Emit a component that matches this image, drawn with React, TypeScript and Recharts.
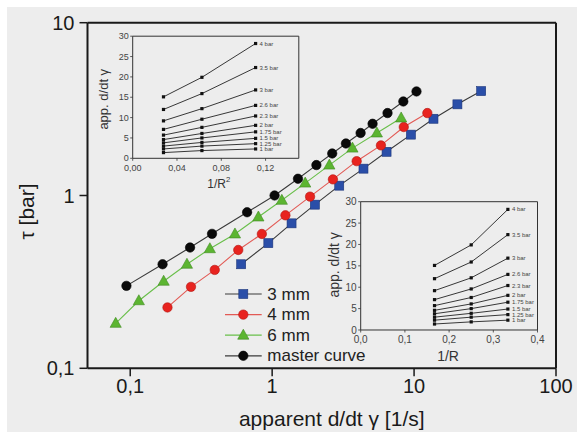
import React from 'react';
import { ScatterChart, Scatter, XAxis, YAxis, Legend } from 'recharts';

const FONT = '"Liberation Sans", Arial, Helvetica, sans-serif';

// ---------- main plot data ----------
const rate3mm = [0.605, 0.94, 1.37, 2.0, 2.97, 4.4, 6.4, 9.5, 13.7, 20.2, 29.7];
const tau3mm = [0.4, 0.53, 0.69, 0.885, 1.14, 1.43, 1.79, 2.25, 2.78, 3.37, 4.02];

const rate4mm = [0.183, 0.268, 0.394, 0.577, 0.846, 1.24, 1.85, 2.68, 3.94, 5.84, 8.46, 12.4];
const tau4mm = [0.225, 0.296, 0.371, 0.484, 0.599, 0.768, 0.985, 1.24, 1.58, 1.95, 2.49, 3.0];

const rate6mm = [0.079, 0.115, 0.172, 0.251, 0.364, 0.547, 0.8, 1.17, 1.71, 2.53, 3.68, 5.47, 8.11];
const tau6mm = [0.182, 0.246, 0.319, 0.4, 0.492, 0.599, 0.751, 0.938, 1.18, 1.5, 1.88, 2.3, 2.81];

const rateMaster = [0.094, 0.169, 0.264, 0.377, 0.666, 1.04, 1.52, 2.05, 2.65, 3.31, 4.2, 5.1, 6.5, 8.4, 10.4];
const tauMaster = [0.3, 0.4, 0.5, 0.6, 0.8, 1.0, 1.25, 1.5, 1.75, 2.0, 2.3, 2.6, 3.0, 3.5, 4.0];

const seriesNames = ['3 mm', '4 mm', '6 mm', 'master curve'];

const xMajorTicks = [0.1, 1, 10, 100];
const xMinorTicks = [0.06, 0.07, 0.08, 0.09, 0.2, 0.3, 0.4, 0.5, 0.6, 0.7, 0.8, 0.9, 2, 3, 4, 5, 6, 7, 8, 9, 20, 30, 40, 50, 60, 70, 80, 90];
const yMajorTicks = [0.1, 1, 10];
const yMinorTicks = [0.2, 0.3, 0.4, 0.5, 0.6, 0.7, 0.8, 0.9, 2, 3, 4, 5, 6, 7, 8, 9];

// ---------- inset data ----------
const pressureLabels = ['4 bar', '3.5 bar', '3 bar', '2.6 bar', '2.3 bar', '2 bar', '1.75 bar', '1.5 bar', '1.25 bar', '1 bar'];
const invRadiusSq = [0.0278, 0.0625, 0.111];
const invRadius = [0.167, 0.25, 0.333];
const rate4bar = [15.1, 19.9, 28.2];
const rate3_5bar = [12.0, 15.9, 22.3];
const rate3bar = [9.2, 12.2, 16.8];
const rate2_6bar = [7.1, 9.6, 13.0];
const rate2_3bar = [5.7, 7.6, 10.4];
const rate2bar = [4.6, 6.1, 8.1];
const rate1_75bar = [3.8, 5.0, 6.5];
const rate1_5bar = [3.0, 3.9, 4.9];
const rate1_25bar = [2.3, 3.0, 3.6];
const rate1bar = [1.4, 1.9, 2.3];
const insetRates = [rate4bar, rate3_5bar, rate3bar, rate2_6bar, rate2_3bar, rate2bar, rate1_75bar, rate1_5bar, rate1_25bar, rate1bar];
const insetYTicks = [0, 5, 10, 15, 20, 25, 30];
const inset1XTicks = [0, 0.04, 0.08, 0.12];
const inset2XTicks = [0, 0.1, 0.2, 0.3, 0.4];

const zip = (xs: number[], ys: number[]) => xs.map((x, i) => ({ x, y: ys[i] }));

// ---------- markers ----------
type MarkerFn = (cx: number, cy: number) => React.ReactElement;
const squareMarker: MarkerFn = (cx, cy) => (
  <rect x={cx - 4.5} y={cy - 4.5} width={9} height={9} fill="#2a4ea8" stroke="#1c357a" strokeWidth={0.6} />
);
const circleMarker = (fill: string, stroke: string): MarkerFn => (cx, cy) => (
  <circle cx={cx} cy={cy} r={4.7} fill={fill} stroke={stroke} strokeWidth={0.6} />
);
const triangleMarker: MarkerFn = (cx, cy) => (
  <polygon points={`${cx},${cy - 6} ${cx - 5.6},${cy + 4} ${cx + 5.6},${cy + 4}`} fill="#5cb531" stroke="#3f8a22" strokeWidth={0.6} />
);

const mainSeries = [
  { name: seriesNames[0], data: zip(rate3mm, tau3mm), line: '#3a3a3a', marker: squareMarker },
  { name: seriesNames[1], data: zip(rate4mm, tau4mm), line: '#e25a55', marker: circleMarker('#e8231f', '#b01510') },
  { name: seriesNames[2], data: zip(rate6mm, tau6mm), line: '#69bf4a', marker: triangleMarker },
  { name: seriesNames[3], data: zip(rateMaster, tauMaster), line: '#3a3a3a', marker: circleMarker('#0a0a0a', '#000') },
];

const AX = '#1a1a1a';
const THIN = 0.001;
const commaFmt = (v: number) => String(v).replace('.', ',');

const MainLegend = () => (
  <svg width={220} height={90} style={{ display: 'block', overflow: 'visible' }}>
    {mainSeries.map((s, i) => {
      const cy = 11 + i * 20.6;
      return (
        <g key={s.name}>
          <line x1={5} x2={41.7} y1={cy} y2={cy} stroke={s.line} strokeWidth={1.2} />
          {s.marker(23.3, cy)}
          <text x={47.3} y={cy} dominantBaseline="central" fontSize={17} fontFamily={FONT} fill="#222">
            {s.name}
          </text>
        </g>
      );
    })}
  </svg>
);

const MainChart = () => (
  <ScatterChart width={577} height={432} margin={{ top: 22.7, right: 21, bottom: 63.7, left: 87.5 }}>
    <XAxis xAxisId="bMinor" type="number" dataKey="x" scale="log" domain={[0.05, 100]} allowDataOverflow ticks={xMinorTicks} interval={0} tick={false} tickSize={5} tickLine={{ stroke: AX, strokeWidth: 1.3 }} axisLine={false} height={THIN} />
    <XAxis xAxisId="tMinor" orientation="top" mirror type="number" dataKey="x" scale="log" domain={[0.05, 100]} allowDataOverflow ticks={xMinorTicks} interval={0} tick={false} tickSize={4} tickLine={{ stroke: AX, strokeWidth: 1.3 }} axisLine={false} height={THIN} />
    <XAxis xAxisId="t" orientation="top" mirror type="number" dataKey="x" scale="log" domain={[0.05, 100]} allowDataOverflow ticks={xMajorTicks} interval={0} tick={false} tickSize={8} tickLine={{ stroke: AX, strokeWidth: 1.5 }} axisLine={{ stroke: AX, strokeWidth: 2 }} height={THIN} />
    <XAxis
      xAxisId="b" type="number" dataKey="x" scale="log" domain={[0.05, 100]} allowDataOverflow ticks={xMajorTicks} interval={0}
      tickFormatter={commaFmt} tick={{ fontSize: 20, fill: AX, fontFamily: FONT }} tickSize={8} tickMargin={3}
      tickLine={{ stroke: AX, strokeWidth: 1.5 }} axisLine={{ stroke: AX, strokeWidth: 2 }} height={THIN}
      label={(p: any) => (
        <text x={p.viewBox.x + p.viewBox.width / 2 + 10} y={p.viewBox.y + 58} textAnchor="middle" fontSize={21} fontFamily={FONT} fill={AX}>
          apparent d/dt γ [1/s]
        </text>
      )}
    />
    <YAxis yAxisId="lMinor" type="number" dataKey="y" scale="log" domain={[0.1, 10]} allowDataOverflow ticks={yMinorTicks} interval={0} tick={false} tickSize={5} tickLine={{ stroke: AX, strokeWidth: 1.3 }} axisLine={false} width={THIN} />
    <YAxis yAxisId="rMinor" orientation="right" mirror type="number" dataKey="y" scale="log" domain={[0.1, 10]} allowDataOverflow ticks={yMinorTicks} interval={0} tick={false} tickSize={4} tickLine={{ stroke: AX, strokeWidth: 1.3 }} axisLine={false} width={THIN} />
    <YAxis yAxisId="r" orientation="right" mirror type="number" dataKey="y" scale="log" domain={[0.1, 10]} allowDataOverflow ticks={yMajorTicks} interval={0} tick={false} tickSize={8} tickLine={{ stroke: AX, strokeWidth: 1.5 }} axisLine={{ stroke: AX, strokeWidth: 2 }} width={THIN} />
    <YAxis
      yAxisId="l" type="number" dataKey="y" scale="log" domain={[0.1, 10]} allowDataOverflow ticks={yMajorTicks} interval={0}
      tickFormatter={commaFmt} tick={{ fontSize: 20, fill: AX, fontFamily: FONT }} tickSize={8} tickMargin={5}
      tickLine={{ stroke: AX, strokeWidth: 1.5 }} axisLine={{ stroke: AX, strokeWidth: 2 }} width={THIN}
      label={(p: any) => {
        const cx = p.viewBox.x - 61;
        const cy = p.viewBox.y + p.viewBox.height / 2 + 16;
        return (
          <text x={cx} y={cy} transform={`rotate(-90 ${cx} ${cy})`} textAnchor="middle" dominantBaseline="central" fontSize={21} fontFamily={FONT} fill={AX}>
            τ [bar]
          </text>
        );
      }}
    />
    {mainSeries.map((s) => (
      <Scatter
        key={s.name}
        name={s.name}
        xAxisId="b"
        yAxisId="l"
        data={s.data}
        fill={s.line}
        line={{ stroke: s.line, strokeWidth: 1.1 }}
        isAnimationActive={false}
        shape={(p: any) => s.marker(p.cx, p.cy)}
      />
    ))}
    <Legend layout="horizontal" verticalAlign="middle" align="center" wrapperStyle={{ left: 220, top: 283, width: 220 }} content={() => <MainLegend />} />
  </ScatterChart>
);

const IAX = '#333';

type InsetProps = {
  left: number; top: number; width: number; height: number;
  margin: { top: number; right: number; bottom: number; left: number };
  xValues: number[]; xDomain: [number, number]; xTicks: number[]; xDecimals: number;
  fontSize: number; titleSize: number; yTitleSize: number; xTitleDy: number; xTitleDx: number; yTitleDx: number; yTitleDy: number;
  superscript: boolean;
};

const Inset = (props: InsetProps) => {
  const { xValues } = props;
  const lastX = xValues[xValues.length - 1];
  const fmt = (v: number) => v.toFixed(props.xDecimals).replace('.', ',');
  return (
    <div style={{ position: 'absolute', left: props.left, top: props.top }}>
      <ScatterChart width={props.width} height={props.height} margin={props.margin}>
        <XAxis xAxisId="t" orientation="top" mirror type="number" dataKey="x" domain={props.xDomain} allowDataOverflow ticks={props.xTicks} interval={0} tick={false} tickSize={2.5} tickLine={{ stroke: IAX, strokeWidth: 0.8 }} axisLine={{ stroke: IAX, strokeWidth: 1 }} height={THIN} />
        <XAxis
          xAxisId="b" type="number" dataKey="x" domain={props.xDomain} allowDataOverflow ticks={props.xTicks} interval={0}
          tickFormatter={fmt} tick={{ fontSize: props.fontSize, fill: '#444', fontFamily: FONT }} tickSize={2.5} tickMargin={3.5}
          tickLine={{ stroke: IAX, strokeWidth: 0.8 }} axisLine={{ stroke: IAX, strokeWidth: 1 }} height={THIN}
          label={(p: any) => (
            <text x={p.viewBox.x + p.viewBox.width / 2 + props.xTitleDx} y={p.viewBox.y + props.xTitleDy} textAnchor="middle" fontSize={props.titleSize} fontFamily={FONT} fill="#333">
              <tspan>1/R</tspan>
              {props.superscript ? <tspan dy={-6} fontSize={props.titleSize * 0.65}>2</tspan> : null}
            </text>
          )}
        />
        <YAxis yAxisId="r" orientation="right" mirror type="number" dataKey="y" domain={[0, 30]} allowDataOverflow ticks={insetYTicks} interval={0} tick={false} tickSize={2.5} tickLine={{ stroke: IAX, strokeWidth: 0.8 }} axisLine={{ stroke: IAX, strokeWidth: 1 }} width={THIN} />
        <YAxis
          yAxisId="l" type="number" dataKey="y" domain={[0, 30]} allowDataOverflow ticks={insetYTicks} interval={0}
          tick={{ fontSize: props.fontSize, fill: '#444', fontFamily: FONT }} tickSize={2.5} tickMargin={1.5}
          tickLine={{ stroke: IAX, strokeWidth: 0.8 }} axisLine={{ stroke: IAX, strokeWidth: 1 }} width={THIN}
          label={(p: any) => {
            const cx = p.viewBox.x + props.yTitleDx;
            const cy = p.viewBox.y + p.viewBox.height / 2 + props.yTitleDy;
            return (
              <text x={cx} y={cy} transform={`rotate(-90 ${cx} ${cy})`} textAnchor="middle" dominantBaseline="central" fontSize={props.yTitleSize} fontFamily={FONT} fill="#333">
                app. d/dt γ
              </text>
            );
          }}
        />
        {insetRates.map((rates, i) => (
          <Scatter
            key={pressureLabels[i]}
            xAxisId="b"
            yAxisId="l"
            data={zip(xValues, rates)}
            fill="#111"
            line={{ stroke: '#222', strokeWidth: 0.9 }}
            isAnimationActive={false}
            shape={(p: any) => (
              <g>
                <rect x={p.cx - 1.6} y={p.cy - 1.6} width={3.2} height={3.2} fill="#111" />
                {p.payload && p.payload.x === lastX ? (
                  <text x={p.cx + 4} y={p.cy} dominantBaseline="central" fontSize={6} fontFamily={FONT} fill="#444">
                    {pressureLabels[i]}
                  </text>
                ) : null}
              </g>
            )}
          />
        ))}
      </ScatterChart>
    </div>
  );
};

export default function App() {
  return (
    <div style={{ position: 'absolute', left: 0, top: 0, width: 577, height: 432, background: '#ffffff', overflow: 'hidden' }}>
      <div style={{ position: 'absolute', left: 7, top: 7, width: 570, height: 425, background: '#ededed' }} />
      <div style={{ position: 'absolute', left: 0, top: 0 }}>
        <MainChart />
      </div>
      <Inset
        left={90} top={20} width={220} height={180}
        margin={{ top: 16.2, right: 11.2, bottom: 41.7, left: 42.7 }}
        xValues={invRadiusSq} xDomain={[0, 0.15]} xTicks={inset1XTicks} xDecimals={2}
        fontSize={9} titleSize={12} yTitleSize={13} xTitleDx={3} xTitleDy={30} yTitleDx={-29} yTitleDy={2} superscript
      />
      <Inset
        left={320} top={190} width={240} height={180}
        margin={{ top: 11.7, right: 22.5, bottom: 40, left: 40.7 }}
        xValues={invRadius} xDomain={[0, 0.4]} xTicks={inset2XTicks} xDecimals={1}
        fontSize={10} titleSize={14} yTitleSize={14} xTitleDx={-1} xTitleDy={31} yTitleDx={-27} yTitleDy={-1} superscript={false}
      />
    </div>
  );
}
